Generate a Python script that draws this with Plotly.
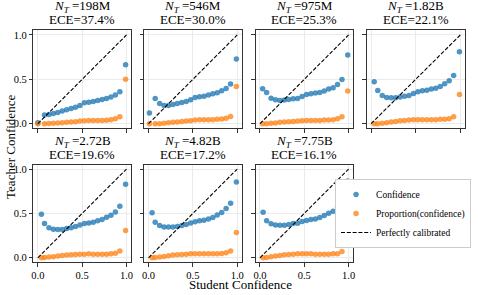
import plotly.graph_objects as go

W, H = 478, 295

model_sizes = ["198M", "546M", "975M", "1.82B", "2.72B", "4.82B", "7.75B"]
ece_values = [37.4, 30.0, 25.3, 22.1, 19.6, 17.2, 16.1]

# first-bin student confidence differs per model; rest are shared bin centres
first_bin_x = [0.0, 0.01, 0.03, 0.035, 0.04, 0.04, 0.035]
bin_x = [0.075, 0.125, 0.175, 0.225, 0.275, 0.325, 0.375, 0.425, 0.475,
         0.525, 0.575, 0.625, 0.675, 0.725, 0.775, 0.825, 0.875, 0.925, 0.99]

confidence = [
    [0.01, 0.097, 0.105, 0.116, 0.127, 0.142, 0.157, 0.172, 0.184, 0.206,
     0.236, 0.243, 0.251, 0.262, 0.273, 0.285, 0.300, 0.322, 0.360, 0.663],
    [0.12, 0.284, 0.228, 0.206, 0.206, 0.217, 0.228, 0.240, 0.250, 0.270,
     0.296, 0.303, 0.310, 0.322, 0.337, 0.348, 0.370, 0.397, 0.446, 0.730],
    [0.393, 0.352, 0.288, 0.270, 0.262, 0.266, 0.273, 0.281, 0.285, 0.307,
     0.330, 0.337, 0.345, 0.352, 0.367, 0.390, 0.404, 0.442, 0.498, 0.775],
    [0.472, 0.375, 0.318, 0.296, 0.292, 0.292, 0.300, 0.310, 0.318, 0.340,
     0.360, 0.370, 0.378, 0.390, 0.400, 0.420, 0.450, 0.483, 0.543, 0.810],
    [0.490, 0.386, 0.337, 0.322, 0.318, 0.318, 0.330, 0.337, 0.352, 0.370,
     0.386, 0.393, 0.400, 0.416, 0.430, 0.457, 0.480, 0.517, 0.580, 0.828],
    [0.506, 0.400, 0.363, 0.348, 0.348, 0.348, 0.352, 0.363, 0.375, 0.393,
     0.405, 0.416, 0.423, 0.438, 0.453, 0.483, 0.510, 0.554, 0.614, 0.854],
    [0.513, 0.416, 0.382, 0.370, 0.367, 0.367, 0.375, 0.386, 0.390, 0.408,
     0.420, 0.430, 0.438, 0.453, 0.476, 0.502, 0.524, 0.573, 0.633, 0.865],
]

proportion = [
    [0.0, 0.0, 0.003, 0.005, 0.008, 0.012, 0.015, 0.019, 0.022, 0.030,
     0.034, 0.037, 0.037, 0.037, 0.037, 0.040, 0.045, 0.056, 0.079, 0.500],
    [0.0, 0.0, 0.0, 0.004, 0.011, 0.015, 0.019, 0.026, 0.030, 0.034,
     0.041, 0.045, 0.045, 0.045, 0.045, 0.049, 0.052, 0.060, 0.082, 0.418],
    [0.0, 0.0, 0.004, 0.008, 0.015, 0.019, 0.022, 0.026, 0.030, 0.034,
     0.037, 0.037, 0.037, 0.037, 0.041, 0.041, 0.045, 0.056, 0.079, 0.367],
    [0.0, 0.0, 0.004, 0.011, 0.019, 0.026, 0.034, 0.037, 0.041, 0.045,
     0.045, 0.045, 0.045, 0.045, 0.045, 0.049, 0.049, 0.056, 0.079, 0.330],
    [0.0, 0.004, 0.008, 0.011, 0.019, 0.026, 0.030, 0.034, 0.037, 0.041,
     0.041, 0.045, 0.041, 0.041, 0.041, 0.041, 0.045, 0.052, 0.075, 0.307],
    [0.0, 0.004, 0.008, 0.015, 0.022, 0.030, 0.034, 0.037, 0.041, 0.045,
     0.045, 0.045, 0.045, 0.045, 0.045, 0.045, 0.049, 0.056, 0.075, 0.285],
    [0.0, 0.004, 0.011, 0.019, 0.026, 0.034, 0.037, 0.041, 0.045, 0.045,
     0.045, 0.045, 0.041, 0.041, 0.041, 0.041, 0.045, 0.045, 0.071, 0.266],
]

diag = [0.0, 1.0]
tick_vals = [0.0, 0.5, 1.0]

# panel frames in pixels (left, right, top, bottom)
col_px = [(31.7, 130.0), (143.3, 241.7), (255.7, 354.0), (367.7, 466.7)]
row_px = [(29.7, 128.0), (164.7, 263.0)]
panels = [(0, 0), (0, 1), (0, 2), (0, 3), (1, 0), (1, 1), (1, 2)]

SERIF = "Liberation Serif"
BLUE = "rgba(31,119,180,0.78)"
ORANGE = "rgba(255,127,14,0.75)"
FRAME = "#333333"

fig = go.Figure()
layout = dict(
    width=W, height=H, margin=dict(l=0, r=0, t=0, b=0),
    paper_bgcolor="white", plot_bgcolor="white",
    font=dict(family=SERIF, size=11, color="black"),
    annotations=[],
)

for i, (r, c) in enumerate(panels):
    n = i + 1
    xa = "x" if n == 1 else f"x{n}"
    ya = "y" if n == 1 else f"y{n}"
    xs = [first_bin_x[i]] + bin_x
    fig.add_trace(go.Scatter(
        x=xs, y=confidence[i], mode="markers", xaxis=xa, yaxis=ya,
        marker=dict(color=BLUE, size=5.5, line=dict(width=0)),
        name="Confidence", legendgroup="conf", showlegend=(i == 0)))
    fig.add_trace(go.Scatter(
        x=xs, y=proportion[i], mode="markers", xaxis=xa, yaxis=ya,
        marker=dict(color=ORANGE, size=5.5, line=dict(width=0)),
        name="Proportion(confidence)", legendgroup="prop", showlegend=(i == 0)))
    fig.add_trace(go.Scatter(
        x=diag, y=diag, mode="lines", xaxis=xa, yaxis=ya,
        line=dict(color="black", width=1.1, dash="4px,1.8px"),
        name="Perfectly calibrated", legendgroup="diag", showlegend=(i == 0)))

    x0, x1 = col_px[c]
    yt, yb = row_px[r]
    common = dict(
        range=[-0.05, 1.05], tickvals=tick_vals, tickformat=".1f",
        showline=True, mirror=True, linecolor=FRAME, linewidth=1,
        ticks="outside", ticklen=3.5, tickwidth=0.8, tickcolor=FRAME,
        showgrid=True, gridcolor="#ebebeb", gridwidth=0.8,
        zeroline=False, tickfont=dict(family=SERIF, size=10.5, color="black"),
    )
    layout["xaxis" if n == 1 else f"xaxis{n}"] = dict(
        common, domain=[x0 / W, x1 / W], anchor=ya,
        showticklabels=(r == 1))
    layout["yaxis" if n == 1 else f"yaxis{n}"] = dict(
        common, domain=[1 - yb / H, 1 - yt / H], anchor=xa,
        showticklabels=(c == 0))

    cx = (x0 + x1) / 2 / W
    ytop = 1 - yt / H
    layout["annotations"].append(dict(
        text=f"<i>N</i><sub><i>T</i></sub> ={model_sizes[i]}",
        x=cx, y=ytop, xref="paper", yref="paper", xanchor="center",
        yanchor="bottom", yshift=13, showarrow=False,
        font=dict(family=SERIF, size=13, color="black")))
    layout["annotations"].append(dict(
        text=f"ECE={ece_values[i]:.1f}%",
        x=cx, y=ytop, xref="paper", yref="paper", xanchor="center",
        yanchor="bottom", yshift=1, showarrow=False,
        font=dict(family=SERIF, size=13, color="black")))

layout["annotations"].append(dict(
    text="Teacher Confidence", x=8 / W, y=1 - 147 / H, xref="paper",
    yref="paper", xanchor="center", yanchor="middle", textangle=-90,
    showarrow=False, font=dict(family=SERIF, size=13, color="black")))
layout["annotations"].append(dict(
    text="Student Confidence", x=241 / W, y=0, xref="paper",
    yref="paper", xanchor="center", yanchor="bottom", yshift=0.5,
    showarrow=False, font=dict(family=SERIF, size=13, color="black")))

layout["legend"] = dict(
    x=473 / W, y=1 - 214 / H, xanchor="right", yanchor="middle",
    bgcolor="white", bordercolor="#cccccc", borderwidth=1,
    font=dict(family=SERIF, size=9.5, color="black"),
    itemwidth=30, tracegroupgap=0,
)

fig.update_layout(**layout)
fig.write_html(
    "out.html",
    config={"displayModeBar": False},
    post_script="document.body.style.margin='0';document.body.style.padding='0';",
)
